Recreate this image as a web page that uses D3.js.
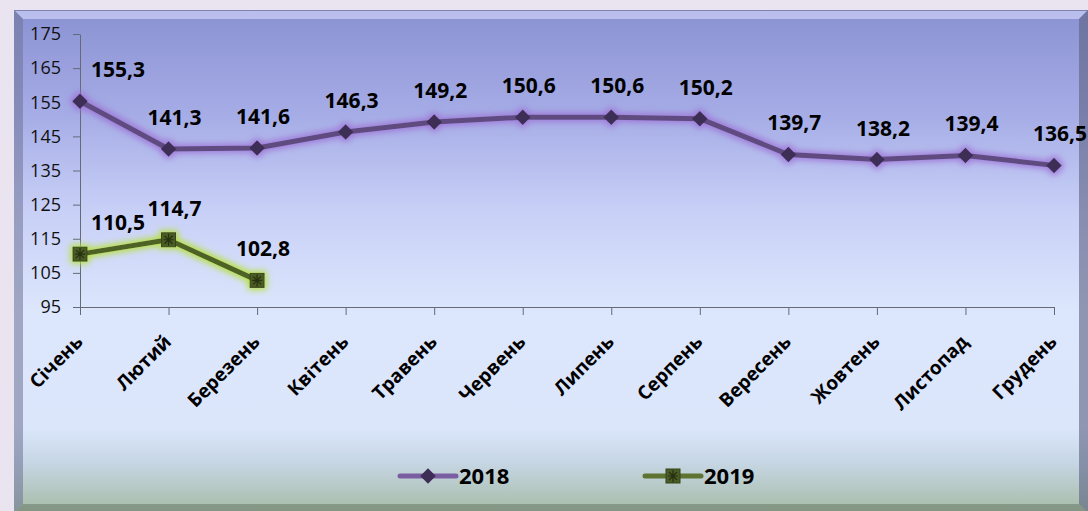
<!DOCTYPE html>
<html>
<head>
<meta charset="utf-8">
<script src="https://cdn.jsdelivr.net/npm/d3@7"></script>
<style>
  body { margin: 0; background: #e9e4ef; }
  svg { display: block; font-family: "Open Sans", sans-serif; }
</style>
</head>
<body>
<svg width="1088" height="511"></svg>
<script>
const months = ["Січень", "Лютий", "Березень", "Квітень", "Травень", "Червень",
  "Липень", "Серпень", "Вересень", "Жовтень", "Листопад", "Грудень"];
const values2018 = [155.3, 141.3, 141.6, 146.3, 149.2, 150.6, 150.6, 150.2, 139.7, 138.2, 139.4, 136.5];
const values2019 = [110.5, 114.7, 102.8];
const yTicks = [95, 105, 115, 125, 135, 145, 155, 165, 175];
const seriesNames = ["2018", "2019"];

const svg = d3.select("svg");
const width = +svg.attr("width");
const height = +svg.attr("height");
const plot = { left: 80, right: 1054, top: 34, bottom: 307 };
const fmt = (v) => d3.format(".1f")(v).replace(".", ",");

const defs = svg.append("defs");

// panel gradient
const grad = defs.append("linearGradient")
  .attr("id", "panelFill")
  .attr("x1", 0).attr("y1", 0).attr("x2", 0).attr("y2", 1);
[[0, "#8b92d2"], [0.2, "#a4abe5"], [0.4, "#c8d0f7"], [0.6, "#dce6fc"],
 [0.83, "#dbe6fb"], [0.9, "#c6d6e4"], [1, "#a6bba5"]].forEach(([o, c]) =>
  grad.append("stop").attr("offset", o).attr("stop-color", c));

const glow = (id, color, op) => {
  const f = defs.append("filter")
    .attr("id", id)
    .attr("filterUnits", "userSpaceOnUse")
    .attr("x", 0).attr("y", 0).attr("width", width).attr("height", height);
  f.append("feMorphology").attr("in", "SourceAlpha").attr("operator", "dilate")
    .attr("radius", 2).attr("result", "d");
  f.append("feGaussianBlur").attr("in", "d").attr("stdDeviation", 3).attr("result", "b");
  f.append("feFlood").attr("flood-color", color).attr("flood-opacity", op);
  f.append("feComposite").attr("in2", "b").attr("operator", "in").attr("result", "g");
  const m = f.append("feMerge");
  m.append("feMergeNode").attr("in", "g");
  m.append("feMergeNode").attr("in", "SourceGraphic");
};
glow("glowP", "#9d70d6", 0.85);
glow("glowG", "#b6e03c", 0.95);

// panel with bevel
const px0 = 14, py0 = 10, px1 = width, py1 = height + 2, bev = 9;
svg.append("rect")
  .attr("x", px0).attr("y", py0)
  .attr("width", px1 - px0).attr("height", py1 - py0)
  .attr("fill", "url(#panelFill)");
const bevel = [
  [[px0, py0], [px1, py0], [px1 - bev, py0 + bev], [px0 + bev, py0 + bev], "#c5c9f4", 0.8],
  [[px0, py0], [px0 + bev, py0 + bev], [px0 + bev, py1 - bev], [px0, py1], "#6d7296", 0.55],
  [[px1, py0], [px1, py1], [px1 - bev, py1 - bev], [px1 - bev, py0 + bev], "#5c6080", 0.6],
  [[px0, py1], [px0 + bev, py1 - bev], [px1 - bev, py1 - bev], [px1, py1], "#5f7060", 0.5],
];
bevel.forEach((b) => {
  svg.append("polygon")
    .attr("points", b.slice(0, 4).map((p) => p.join(",")).join(" "))
    .attr("fill", b[4]).attr("opacity", b[5]);
});
svg.append("line")
  .attr("x1", px0).attr("x2", px1).attr("y1", py0 + 0.5).attr("y2", py0 + 0.5)
  .attr("stroke", "#7e82b0").attr("stroke-width", 1);

const xScale = d3.scalePoint().domain(months).range([plot.left, plot.right]);
const yScale = d3.scaleLinear().domain([95, 175]).range([plot.bottom, plot.top]);

// axes
const yAxis = svg.append("g")
  .attr("transform", `translate(${plot.left},0)`)
  .call(d3.axisLeft(yScale).tickValues(yTicks).tickSize(7).tickSizeOuter(0).tickPadding(12));
yAxis.attr("font-size", 18).attr("font-family", "Open Sans");
yAxis.selectAll("text").attr("fill", "#111");

const xAxis = svg.append("g")
  .attr("transform", `translate(0,${plot.bottom})`)
  .call(d3.axisBottom(xScale).tickSize(8).tickSizeOuter(0).tickFormat(""));
[yAxis, xAxis].forEach((a) => {
  a.select(".domain").attr("stroke", "#666a78");
  a.selectAll(".tick line").attr("stroke", "#666a78");
});

svg.append("g")
  .selectAll("text")
  .data(months)
  .join("text")
  .attr("transform", (d) => `translate(${xScale(d) + 4},${plot.bottom + 36}) rotate(-45)`)
  .attr("text-anchor", "end")
  .attr("font-size", 19)
  .attr("font-weight", "bold")
  .attr("fill", "#000")
  .text((d) => d);

const line = d3.line()
  .x((d) => xScale(d.m))
  .y((d) => yScale(d.v));

const series = [
  { name: seriesNames[0], values: values2018, stroke: "#5e4c80", marker: "#3d2d56", filter: "glowP", shape: "diamond" },
  { name: seriesNames[1], values: values2019, stroke: "#4f6228", marker: "#4b5d26", filter: "glowG", shape: "square" },
];

const drawMarker = (g, shape, color, cx, cy) => {
  if (shape === "diamond") {
    g.append("path")
      .attr("d", d3.symbol(d3.symbolSquare, 120)())
      .attr("transform", `translate(${cx},${cy}) rotate(45)`)
      .attr("fill", color);
  } else {
    const s = 14;
    g.append("rect")
      .attr("x", cx - s / 2).attr("y", cy - s / 2)
      .attr("width", s).attr("height", s)
      .attr("fill", color).attr("stroke", "#34421a").attr("stroke-width", 1);
    g.append("path")
      .attr("d", `M${cx - 5},${cy}H${cx + 5}M${cx},${cy - 6}V${cy + 6}M${cx - 4},${cy - 4}L${cx + 4},${cy + 4}M${cx + 4},${cy - 4}L${cx - 4},${cy + 4}`)
      .attr("stroke", "#26300f").attr("stroke-width", 1.2);
  }
};

series.forEach((s) => {
  const pts = s.values.map((v, i) => ({ m: months[i], v }));
  const g = svg.append("g").attr("filter", `url(#${s.filter})`);
  g.append("path")
    .datum(pts)
    .attr("d", line)
    .attr("fill", "none")
    .attr("stroke", s.stroke)
    .attr("stroke-width", 5)
    .attr("stroke-linejoin", "round");
  pts.forEach((p) => drawMarker(g, s.shape, s.marker, xScale(p.m), yScale(p.v)));

  svg.append("g")
    .selectAll("text")
    .data(pts)
    .join("text")
    .attr("x", (d) => Math.max(xScale(d.m) + 6, plot.left + 38))
    .attr("y", (d) => yScale(d.v) - 24)
    .attr("text-anchor", "middle")
    .attr("font-size", 21)
    .attr("font-weight", "bold")
    .attr("fill", "#000")
    .text((d) => fmt(d.v));
});

// legend
const legend = svg.append("g").attr("transform", "translate(400,476)");
series.forEach((s, i) => {
  const lg = legend.append("g").attr("transform", `translate(${i * 245},0)`);
  lg.append("line")
    .attr("x1", 0).attr("x2", 56).attr("y1", 0).attr("y2", 0)
    .attr("stroke", i === 0 ? "#7a5ea2" : "#5f7430")
    .attr("stroke-width", 5)
    .attr("stroke-linecap", "round");
  drawMarker(lg, s.shape, s.marker, 28, 0);
  lg.append("text")
    .attr("x", 59).attr("y", 8)
    .attr("font-size", 22)
    .attr("font-weight", "bold")
    .attr("fill", "#000")
    .text(s.name);
});
</script>
</body>
</html>
